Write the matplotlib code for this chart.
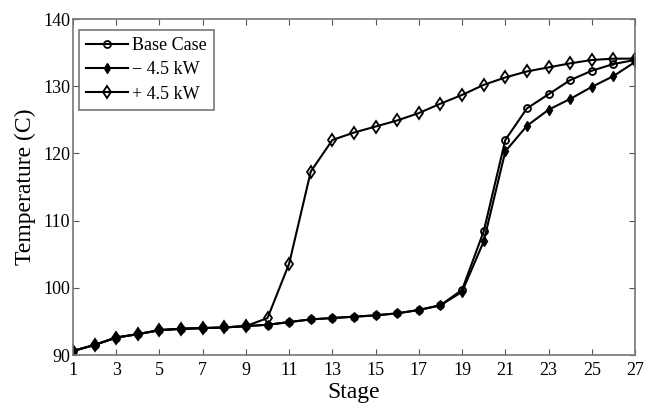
import matplotlib
matplotlib.use("Agg")
import matplotlib.pyplot as plt

stages = list(range(1, 28))
base_case = [90.6, 91.5, 92.6, 93.1, 93.7, 93.9, 94.0, 94.1, 94.3, 94.5,
             94.9, 95.3, 95.5, 95.7, 95.9, 96.2, 96.7, 97.4, 99.7, 108.4,
             122.0, 126.7, 128.8, 130.9, 132.3, 133.3, 133.9]
minus_4_5 = [90.6, 91.5, 92.6, 93.1, 93.7, 93.9, 94.0, 94.1, 94.3, 94.5,
             94.9, 95.3, 95.5, 95.7, 95.9, 96.2, 96.7, 97.4, 99.4, 106.9,
             120.3, 124.1, 126.5, 128.1, 129.9, 131.5, 133.6]
plus_4_5 = [90.6, 91.5, 92.6, 93.1, 93.7, 93.9, 94.0, 94.1, 94.3, 95.5,
            103.6, 117.3, 122.0, 123.1, 124.0, 124.9, 126.0, 127.4, 128.7, 130.2,
            131.3, 132.2, 132.8, 133.4, 133.9, 134.1, 134.1]
x_ticks = list(range(1, 28, 2))
y_ticks = [90, 100, 110, 120, 130, 140]

plt.rcParams['font.family'] = ['Liberation Serif', 'DejaVu Serif']

fig = plt.figure(figsize=(6.45, 4.05), dpi=100)
ax = fig.add_axes([73/645, 1 - 355/405, (635-73)/645, (355-19)/405])

ax.plot(stages, base_case, color='black', lw=1.5, marker='o', ms=5,
        mfc='none', mec='black', mew=1.3, label='Base Case')
ax.plot(stages, minus_4_5, color='black', lw=1.5, marker='d', ms=5.5,
        mfc='black', mec='black', mew=1.0, label='\u2212 4.5 kW')
ax.plot(stages, plus_4_5, color='black', lw=1.5, marker='d', ms=6.5,
        mfc='none', mec='black', mew=1.3, label='+ 4.5 kW')

ax.set_xlim(1, 27)
ax.set_ylim(90, 140)
ax.set_xticks(x_ticks)
ax.set_yticks(y_ticks)
ax.tick_params(direction='in', top=True, right=True, length=4,
               labelsize=13, color='#555555')
ax.tick_params(axis='x', pad=5)
ax.tick_params(axis='y', pad=2)
for s in ax.spines.values():
    s.set_color('#777777')
    s.set_linewidth(1.2)

ax.set_xlabel('Stage', fontsize=17, labelpad=2)
ax.set_ylabel('Temperature (C)', fontsize=17, labelpad=5)

leg = ax.legend(loc='upper left', bbox_to_anchor=(6/562, 1 - 11/336),
                borderaxespad=0, fontsize=13, frameon=True, fancybox=False,
                edgecolor='#555555', handlelength=2.3, handletextpad=0.25,
                borderpad=0.4, labelspacing=0.4)
leg.get_frame().set_linewidth(1.2)

fig.savefig('out.png', dpi=100)
